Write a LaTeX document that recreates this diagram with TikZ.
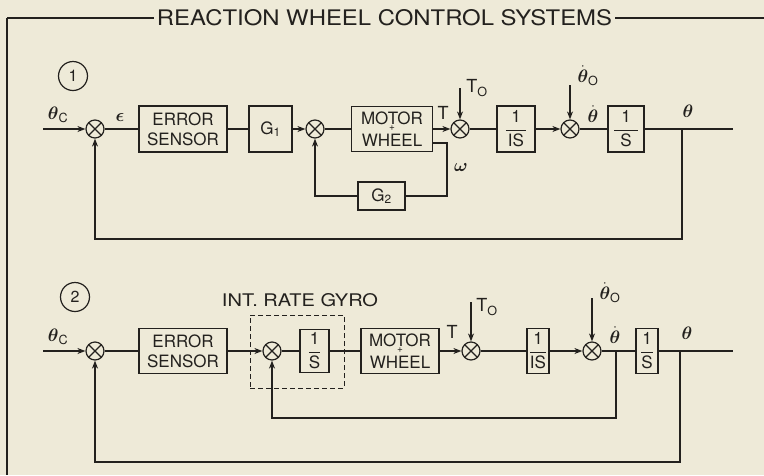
\RequirePackage{fix-cm}
\documentclass[tikz,border=0pt]{standalone}
\usepackage{amsmath}
\usepackage{graphicx}
\usepackage{fontspec}
\setmainfont{TeX Gyre Heros}
\usetikzlibrary{arrows.meta}
\definecolor{bg}{RGB}{238,234,216}
\definecolor{ink}{RGB}{35,33,30}
\newcommand\myfrac[2]{\genfrac{}{}{1.1pt}{0}{\text{#1}}{\text{#2}}}
\newcommand\bth{\boldsymbol{\theta}}
\begin{document}
\begin{tikzpicture}[x=1pt,y=-1pt,
  ln/.style={line width=1.7pt, draw=ink},
  arr/.style={line width=1.7pt, draw=ink, -{Stealth[length=8pt,width=6pt]}},
  blk/.style={draw=ink, line width=1.2pt, inner sep=0pt, align=center, text=ink,
    font=\fontsize{17}{20}\selectfont},
  sumj/.style={circle, draw=ink, line width=1.2pt, minimum size=18pt, inner sep=0pt,
    path picture={\draw[ink,line width=1.1pt]
      (path picture bounding box.north west) -- (path picture bounding box.south east)
      (path picture bounding box.north east) -- (path picture bounding box.south west);}},
  lbl/.style={text=ink, inner sep=0pt, font=\fontsize{18}{20}\selectfont},
  num/.style={circle, draw=ink, line width=1.2pt, minimum size=29pt, inner sep=0pt,
    text=ink, font=\fontsize{16}{18}\selectfont},
  plus/.style={text=ink, inner sep=0pt, font=\fontsize{10}{10}\selectfont}
]
\fill[bg] (0,0) rectangle (764,475);
\useasboundingbox (0,0) rectangle (764,475);

% ---- frame and title
\node[fill=bg, inner xsep=3pt, inner ysep=0pt, text=ink] (title) at (384.5,18)
  {\resizebox{455pt}{16pt}{REACTION WHEEL CONTROL SYSTEMS}};
\coordinate (fl) at (7,18);
\coordinate (fr) at (764,18);
\coordinate (fb) at (7,475);
\draw[ln] (fl) -- (title.west);
\draw[ln] (title.east) -- (fr);
\draw[ln] (fl) -- (fb);

% ================= system 1
\node[num] (n1) at (73,76) {1};
\node[sumj] (s11) at (95,129) {};
\node[blk, minimum width=88pt, minimum height=46pt] (es1) at (183,129) {ERROR\\SENSOR};
\node[blk, minimum width=43pt, minimum height=46pt] (g1) at (270.5,129) {G$_{\text{1}}$};
\node[sumj] (s12) at (315,129) {};
\node[blk, minimum width=81pt, minimum height=45pt] (mw1) at (392,129) {MOTOR\\[2pt]WHEEL};
\node[plus] (p1) at ([yshift=1pt]mw1.center) {+};
\node[sumj] (s13) at (460,129) {};
\node[blk, minimum width=38pt, minimum height=46pt] (is1) at (516,129)
  {$\myfrac{1}{\hspace{2pt}IS\hspace{2pt}}$};
\node[sumj] (s14) at (570,129) {};
\node[blk, minimum width=36pt, minimum height=46pt] (i1) at (626,129)
  {$\myfrac{1}{\hspace{6pt}S\hspace{6pt}}$};
\node[blk, minimum width=47pt, minimum height=28pt] (g2) at (381.5,196) {G$_{\text{2}}$};

\coordinate (in1) at (43,129);
\coordinate (out1) at (733,129);
\coordinate (br1) at (682,129);
\coordinate (lp1) at (682,239);
\coordinate (t01) at (460,88);
\coordinate (d01) at (570,85);
\coordinate (w1) at (447,143);

\node[lbl] (thc1) at (58,115) {$\bth_{\text{C}}$};
\node[lbl] (eps1) at (120,117) {$\boldsymbol{\epsilon}$};
\node[lbl] (T1) at (443,113) {T};
\node[lbl] (T01) at (477,88) {T$_{\text{O}}$};
\node[lbl] (dth01) at (588,76) {$\dot{\bth}_{\text{O}}$};
\node[lbl] (dth1) at (593,114) {$\dot{\bth}$};
\node[lbl] (th1) at (688,111) {$\bth$};
\node[lbl] (om1) at (461,167) {$\boldsymbol{\omega}$};

\draw[arr] (in1) -- (s11);
\draw[ln] (s11) -- (es1);
\draw[ln] (es1) -- (g1);
\draw[arr] (g1) -- (s12);
\draw[ln] (s12) -- (mw1);
\draw[arr] (mw1) -- (s13);
\draw[ln] (s13) -- (is1);
\draw[arr] (is1) -- (s14);
\draw[ln] (s14) -- (i1);
\draw[ln] (i1) -- (out1);
\draw[arr] (t01) -- (s13);
\draw[arr] (d01) -- (s14);
\draw[arr] (br1) -- (lp1) -| (s11);
\draw[ln] (mw1.east |- w1) -- (w1) |- (g2);
\draw[arr] (g2) -| (s12);

% ================= system 2
\node[num] (n2) at (75,297) {2};
\node[sumj] (s21) at (95,351) {};
\node[blk, minimum width=88pt, minimum height=45pt] (es2) at (183,351) {ERROR\\SENSOR};
\node[draw=ink, line width=1pt, dash pattern=on 5pt off 3pt, minimum width=94pt,
  minimum height=73pt, inner sep=0pt] (gyro) at (297,351.5) {};
\node[text=ink, inner sep=0pt] (gyrol) at (300,300) {\resizebox{156pt}{13pt}{INT. RATE GYRO}};
\node[sumj] (s22) at (272,351) {};
\node[blk, minimum width=29pt, minimum height=43pt] (gi2) at (314.5,351) {$\myfrac{1}{S}$};
\node[blk, minimum width=78pt, minimum height=45pt] (mw2) at (400,351) {MOTOR\\[2pt]WHEEL};
\node[plus] (p2) at ([yshift=1pt]mw2.center) {+};
\node[sumj] (s23) at (471,351) {};
\node[blk, minimum width=22pt, minimum height=45pt] (is2) at (538,351) {$\myfrac{1}{IS}$};
\node[sumj] (s24) at (592,351) {};
\node[blk, minimum width=22pt, minimum height=45pt] (i2) at (647,351) {$\myfrac{1}{S}$};

\coordinate (in2) at (43,351);
\coordinate (out2) at (733,351);
\coordinate (bi2) at (616,351);
\coordinate (li2) at (616,418);
\coordinate (bo2) at (680,351);
\coordinate (lo2) at (680,462);
\coordinate (t02) at (471,302);
\coordinate (d02) at (592,298);

\node[lbl] (thc2) at (58,337) {$\bth_{\text{C}}$};
\node[lbl] (T2) at (452,332) {T};
\node[lbl] (T02) at (487,307) {T$_{\text{O}}$};
\node[lbl] (dth02) at (610,293) {$\dot{\bth}_{\text{O}}$};
\node[lbl] (dth2) at (615,335) {$\dot{\bth}$};
\node[lbl] (th2) at (687,333) {$\bth$};

\draw[arr] (in2) -- (s21);
\draw[ln] (s21) -- (es2);
\draw[arr] (es2) -- (s22);
\draw[ln] (s22) -- (gi2);
\draw[ln] (gi2) -- (mw2);
\draw[arr] (mw2) -- (s23);
\draw[ln] (s23) -- (is2);
\draw[arr] (is2) -- (s24);
\draw[ln] (s24) -- (i2);
\draw[ln] (i2) -- (out2);
\draw[arr] (t02) -- (s23);
\draw[arr] (d02) -- (s24);
\draw[arr] (bi2) -- (li2) -| (s22);
\draw[arr] (bo2) -- (lo2) -| (s21);
\end{tikzpicture}
\end{document}
